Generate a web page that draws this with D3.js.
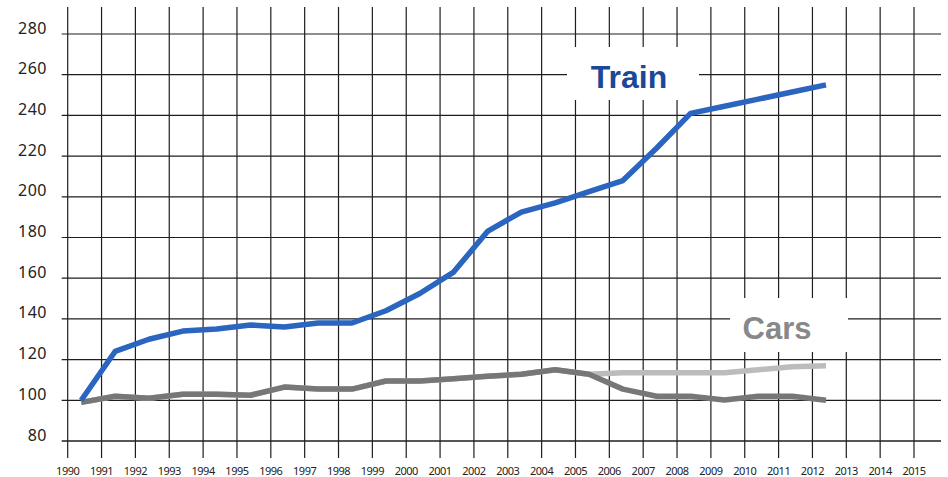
<!DOCTYPE html>
<html>
<head>
<meta charset="utf-8">
<script src="https://cdn.jsdelivr.net/npm/d3@7"></script>
<style>
  html, body { margin: 0; padding: 0; background: #fff; }
  svg { display: block; }
</style>
</head>
<body>
<svg id="chart"></svg>
<script>
// data (index = 1990 ... 2012)
var years = d3.range(1990, 2013);
var train = [100, 124, 130, 134, 135, 137, 136, 138, 138, 144, 152.5, 163, 183, 192.5, 197, 202.5, 208, 224, 241, 244.5, 248, 251.5, 255];
var carsA = [99, 102, 101, 103, 103, 102.5, 106.5, 105.5, 105.5, 109.5, 109.5, 110.6, 111.8, 112.8, 115, 112.8, 105.5, 102, 102, 100.2, 102, 102, 100];
var carsB = [99, 102, 101, 103, 103, 102.5, 106.5, 105.5, 105.5, 109.5, 109.5, 110.6, 111.8, 112.8, 115, 112.8, 113.5, 113.5, 113.5, 113.5, 115, 116.5, 117];
var yTicks = [80, 100, 120, 140, 160, 180, 200, 220, 240, 260, 280];
var xTicks = d3.range(1990, 2016);

var width = 948, height = 477;
var pointOffset = 0.4; // points sit a bit right of the year line

var svg = d3.select("#chart")
  .attr("width", width)
  .attr("height", height);

var x = d3.scaleLinear().domain([1990, 2015]).range([67.7, 914]);
var y = d3.scaleLinear().domain([80, 280]).range([441, 34]);

var gridColor = "#1e1e1e";

// vertical grid
svg.append("g").selectAll("line")
  .data(xTicks)
  .enter()
  .append("line")
  .attr("x1", d => x(d)).attr("x2", d => x(d))
  .attr("y1", 7).attr("y2", 458)
  .attr("stroke", gridColor)
  .attr("stroke-width", 1.2);

// horizontal grid
svg.append("g").selectAll("line")
  .data(yTicks)
  .enter()
  .append("line")
  .attr("x1", 61.7).attr("x2", 941)
  .attr("y1", d => y(d)).attr("y2", d => y(d))
  .attr("stroke", gridColor)
  .attr("stroke-width", d => d === 80 ? 1.6 : 1.2);

// y labels
svg.append("g").selectAll("text")
  .data(yTicks)
  .enter()
  .append("text")
  .attr("x", 47)
  .attr("y", d => y(d) - 0.5)
  .attr("text-anchor", "end")
  .attr("font-family", "Noto Sans, sans-serif")
  .attr("font-size", 16)
  .attr("letter-spacing", 0.5)
  .attr("fill", "#222")
  .text(d => d);

// x labels
svg.append("g").selectAll("text")
  .data(xTicks)
  .enter()
  .append("text")
  .attr("x", d => x(d))
  .attr("y", 475)
  .attr("text-anchor", "middle")
  .attr("font-family", "Noto Sans, sans-serif")
  .attr("font-size", 11)
  .attr("letter-spacing", -0.5)
  .attr("fill", "#222")
  .text(d => d);

// label boxes (white patches on the grid)
svg.append("rect").attr("x", 567).attr("y", 47).attr("width", 132).attr("height", 53).attr("fill", "#fff");
svg.append("rect").attr("x", 730).attr("y", 298).attr("width", 118).attr("height", 54).attr("fill", "#fff");

var line = d3.line()
  .x((d, i) => x(years[i] + pointOffset))
  .y(d => y(d));

function drawSeries(values, color) {
  svg.append("path")
    .datum(values)
    .attr("d", line)
    .attr("fill", "none")
    .attr("stroke", color)
    .attr("stroke-width", 5.5)
    .attr("stroke-linejoin", "round");
}

drawSeries(carsB, "#bcbcbc");
drawSeries(carsA, "#777777");
drawSeries(train, "#2a65bf");

svg.append("text")
  .attr("x", 629).attr("y", 88.3)
  .attr("text-anchor", "middle")
  .attr("font-family", "Liberation Sans, Arial, sans-serif")
  .attr("font-weight", "bold")
  .attr("font-size", 32)
  .attr("fill", "#1c4898")
  .text("Train");

svg.append("text")
  .attr("x", 777).attr("y", 339.3)
  .attr("text-anchor", "middle")
  .attr("font-family", "Liberation Sans, Arial, sans-serif")
  .attr("font-weight", "bold")
  .attr("font-size", 31)
  .attr("fill", "#888888")
  .text("Cars");
</script>
</body>
</html>
